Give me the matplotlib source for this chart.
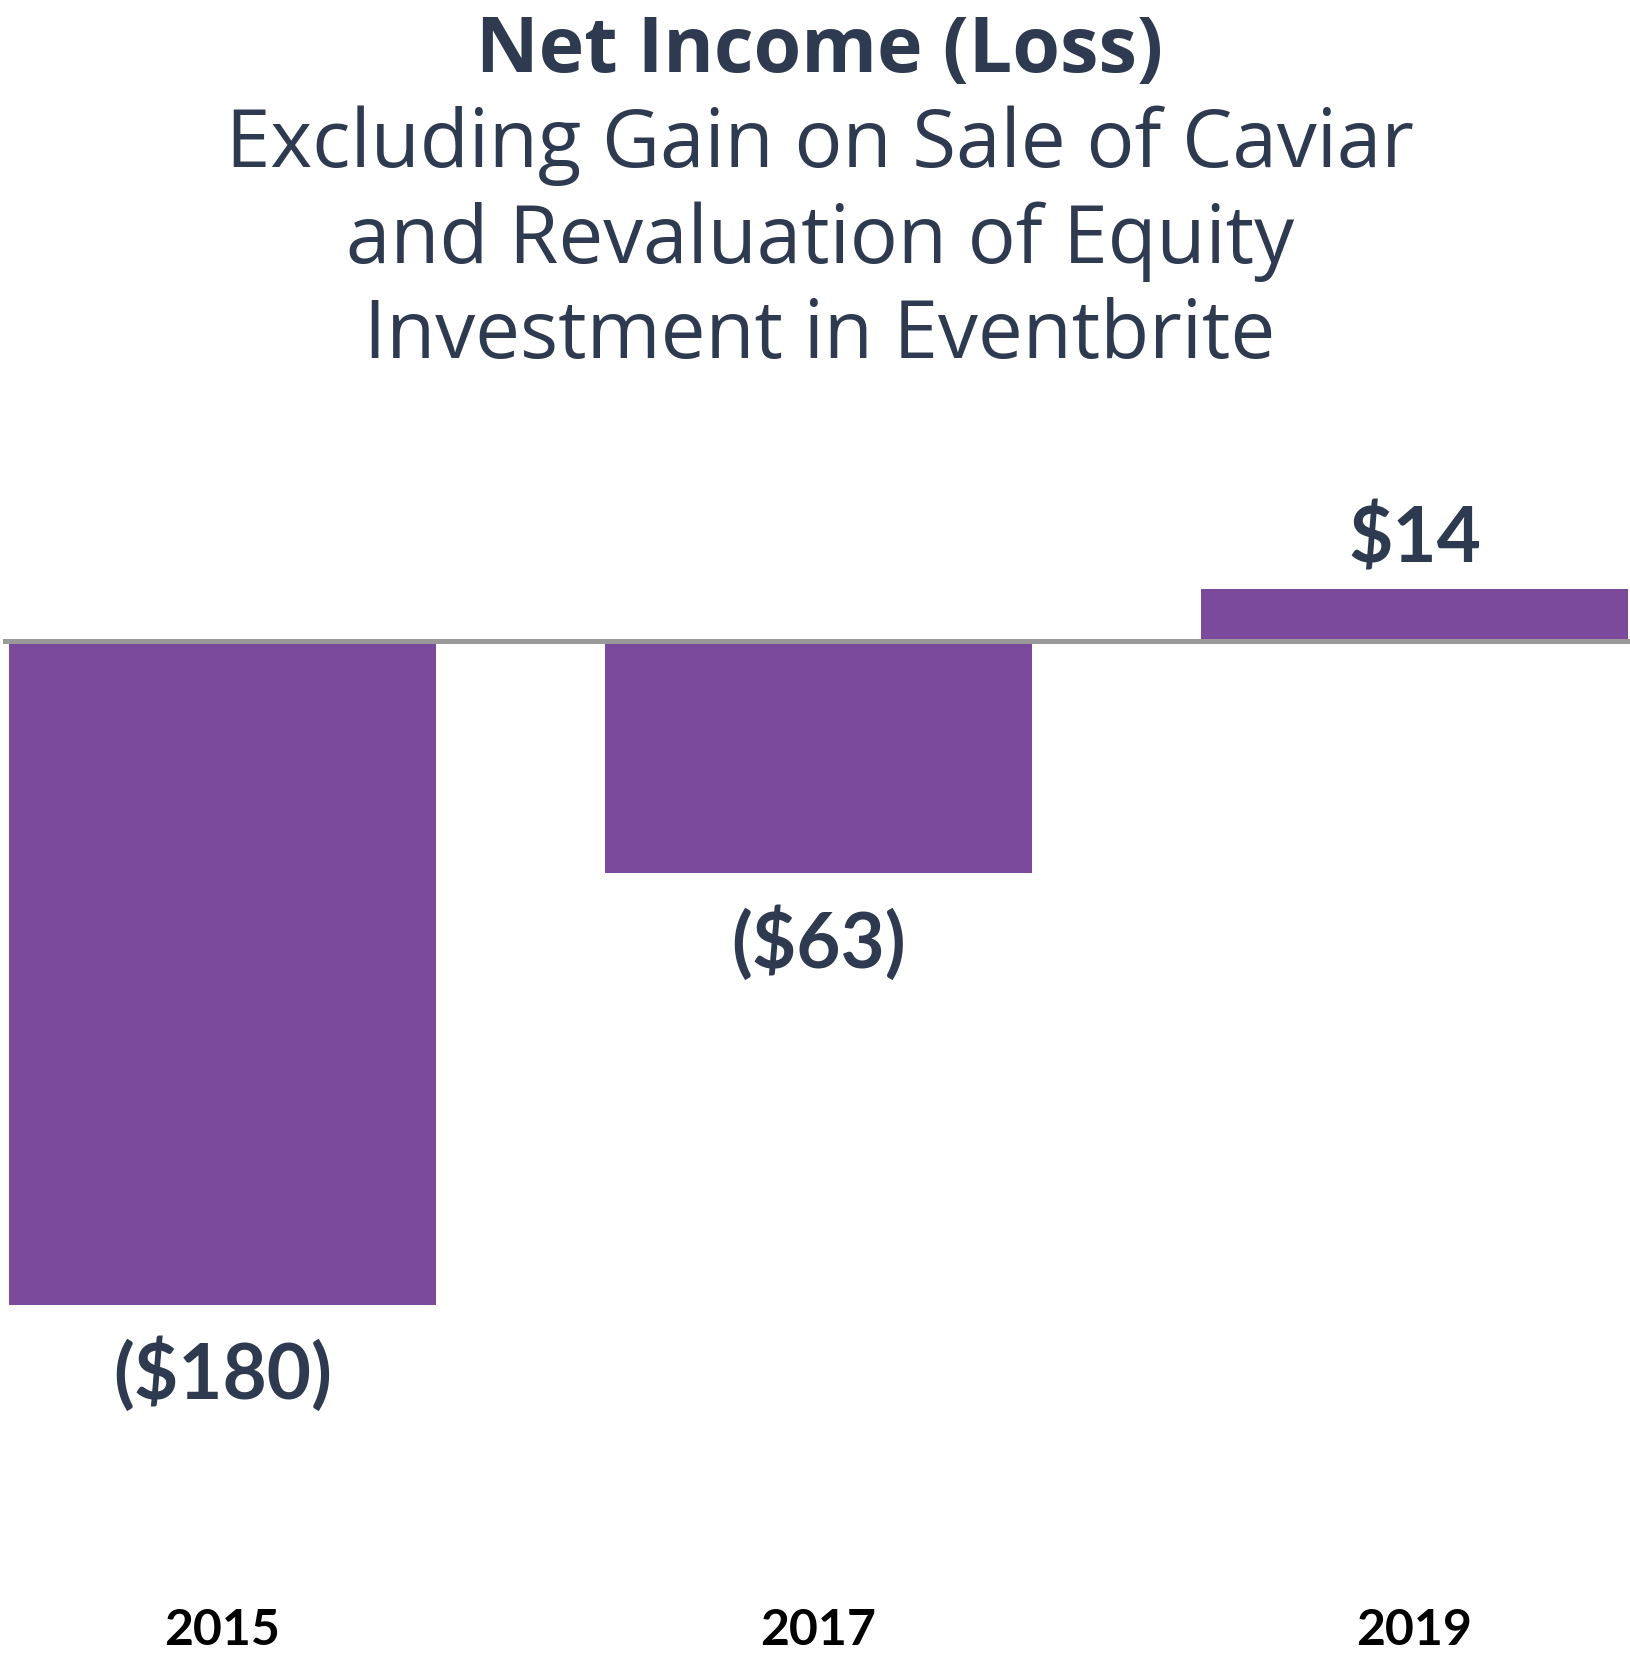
import matplotlib
matplotlib.use("Agg")
import matplotlib.pyplot as plt
from matplotlib.transforms import blended_transform_factory

years = ["2015", "2017", "2019"]
net_income = [-180, -63, 14]
value_labels = ["($180)", "($63)", "$14"]

title = "Net Income (Loss)"
subtitle = ["Excluding Gain on Sale of Caviar",
            "and Revaluation of Equity",
            "Investment in Eventbrite"]

purple = "#7B4A9A"
navy = "#2E3A4F"
plt.rcParams['font.family'] = ['Lato', 'DejaVu Sans']

W, H = 1630, 1662
fig = plt.figure(figsize=(W / 100, H / 100), dpi=100)
ax = fig.add_axes([0, 0, 1, 1])
ax.axis('off')

# scale: 596 px between bars, 664 px for 180
px_x = 596
px_y = 664 / 180
zero_px = 641
ax.set_xlim(-222.5 / px_x, (W - 222.5) / px_x)
ax.set_ylim(-(H - zero_px) / px_y, zero_px / px_y)

x = range(len(years))
ax.bar(x, net_income, width=427 / px_x, color=purple, zorder=2)
ax.axhline(0, xmin=5 / W, xmax=1, color="#999999", lw=3.6, zorder=3)

for i, (v, lab) in enumerate(zip(net_income, value_labels)):
    off = 27 if v > 0 else -94
    ax.annotate(lab, (i, v), xytext=(0, off), textcoords='offset pixels',
                ha='center', va='baseline', fontsize=55, fontweight='bold',
                color=navy)

trans = blended_transform_factory(ax.transData, fig.transFigure)
for i, yr in enumerate(years):
    ax.text(i, 1 - 1645 / H, yr, transform=trans, ha='center', va='baseline',
            fontsize=36, fontweight='bold', color='black')

title_font = ['Open Sans', 'DejaVu Sans']
cx = 0.503
fig.text(cx, 1 - 72 / H, title, ha='center', va='baseline', family=title_font,
         fontsize=55.5, fontweight='bold', color=navy)
for line, base in zip(subtitle, [167, 263, 358]):
    fig.text(cx, 1 - base / H, line, ha='center', va='baseline',
             family=title_font, fontsize=57.5, color=navy)

fig.savefig("out.png", dpi=100)
